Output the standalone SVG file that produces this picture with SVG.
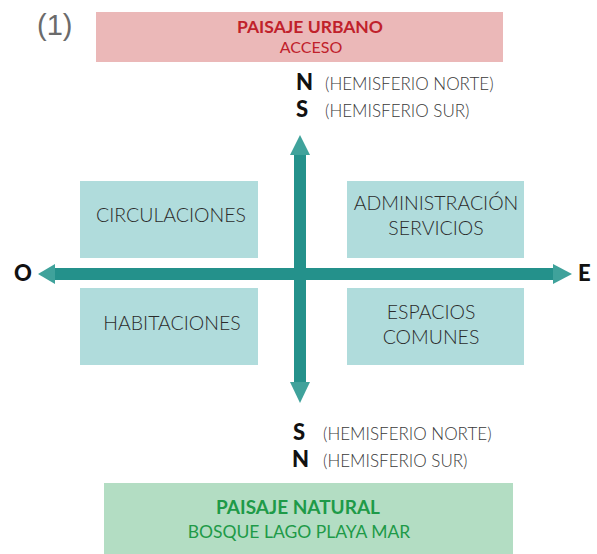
<svg xmlns="http://www.w3.org/2000/svg" width="597" height="554" viewBox="0 0 597 554">
<defs>
<style>
.lbl{font-family:"Lato","Liberation Sans",sans-serif;font-weight:300;fill:#2b2b2b;font-size:19.5px;text-anchor:middle}
.hem{font-family:"Lato","Liberation Sans",sans-serif;font-weight:300;fill:#3a3a3a;font-size:17px}
.dir{font-family:"Lato","Liberation Sans",sans-serif;font-weight:900;fill:#111;font-size:22px}
.box{fill:#b0dcdc}
.shaft{fill:#24918b}
.head{fill:#3fa29b}
</style>
</defs>
<rect width="597" height="554" fill="#ffffff"/>
<text x="37" y="35" font-family="Liberation Sans, sans-serif" font-size="29" fill="#6b6b6b">(1)</text>

<g id="paisaje-urbano">
<rect x="96" y="12" width="407" height="50" fill="#ebb8b8"/>
<text x="310" y="33" font-family="Lato, Liberation Sans, sans-serif" font-weight="700" font-size="17.5" fill="#c0212b" text-anchor="middle">PAISAJE URBANO</text>
<text x="311" y="53" font-family="Lato, Liberation Sans, sans-serif" font-weight="400" font-size="16" fill="#c0212b" text-anchor="middle">ACCESO</text>
</g>

<g id="norte-sur-top">
<text class="dir" x="296" y="90">N</text>
<text class="hem" x="325" y="90">(HEMISFERIO NORTE)</text>
<text class="dir" x="296" y="117">S</text>
<text class="hem" x="325" y="117">(HEMISFERIO SUR)</text>
</g>

<g id="circulaciones">
<rect class="box" x="80" y="181" width="178" height="77"/>
<text class="lbl" x="171" y="222">CIRCULACIONES</text>
</g>
<g id="administracion">
<rect class="box" x="347" y="181" width="177" height="77"/>
<text class="lbl" x="436" y="210">ADMINISTRACIÓN</text>
<text class="lbl" x="436" y="235">SERVICIOS</text>
</g>
<g id="habitaciones">
<rect class="box" x="80" y="288" width="178" height="77"/>
<text class="lbl" x="172" y="330">HABITACIONES</text>
</g>
<g id="espacios-comunes">
<rect class="box" x="347" y="288" width="177" height="77"/>
<text class="lbl" x="431" y="319">ESPACIOS</text>
<text class="lbl" x="431" y="344">COMUNES</text>
</g>

<g id="connectors">
<rect class="shaft" x="52" y="268" width="502" height="12"/>
<rect class="shaft" x="294" y="154" width="12" height="230"/>
<polygon class="head" points="300,135 290,155 310,155"/>
<polygon class="head" points="300,403 290,382 310,382"/>
<polygon class="head" points="38,274 55,264 55,284"/>
<polygon class="head" points="572,274 553,264 553,284"/>
</g>

<g id="cardinal-oe">
<text class="dir" x="14" y="281">O</text>
<text class="dir" x="578" y="281">E</text>
</g>

<g id="norte-sur-bottom">
<text class="dir" x="293" y="440">S</text>
<text class="hem" x="323" y="440">(HEMISFERIO NORTE)</text>
<text class="dir" x="292" y="467">N</text>
<text class="hem" x="323" y="467">(HEMISFERIO SUR)</text>
</g>

<g id="paisaje-natural">
<rect x="104" y="483" width="409" height="71" fill="#b3ddc3"/>
<text x="298" y="514" font-family="Lato, Liberation Sans, sans-serif" font-weight="700" font-size="19" fill="#1e9a48" text-anchor="middle">PAISAJE NATURAL</text>
<text x="299" y="538" font-family="Lato, Liberation Sans, sans-serif" font-weight="400" font-size="17.5" fill="#1e9a48" text-anchor="middle">BOSQUE LAGO PLAYA MAR</text>
</g>
</svg>
